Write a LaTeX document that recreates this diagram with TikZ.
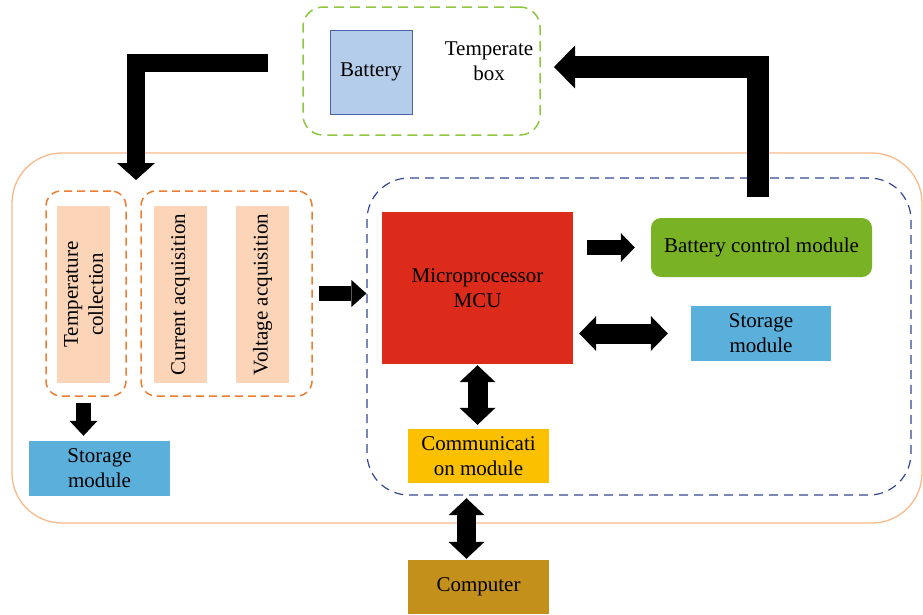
\documentclass[tikz,border=0pt]{standalone}
\usepackage{fontspec}
\setmainfont{Liberation Serif}
\usetikzlibrary{arrows.meta, positioning, calc}
\definecolor{boxgreen}{RGB}{141,198,63}
\definecolor{boardorange}{RGB}{248,185,138}
\definecolor{grouporange}{RGB}{237,125,49}
\definecolor{coreblue}{RGB}{52,70,145}
\definecolor{battfill}{RGB}{180,205,234}
\definecolor{battedge}{RGB}{70,100,165}
\definecolor{peach}{RGB}{252,213,184}
\definecolor{mcured}{RGB}{220,43,26}
\definecolor{ctrlgreen}{RGB}{122,178,38}
\definecolor{storeblue}{RGB}{91,175,219}
\definecolor{commyellow}{RGB}{251,192,0}
\definecolor{pcgold}{RGB}{195,144,28}
\tikzset{basic/.style={inner sep=0pt, align=center, font=\fontsize{21}{25}\selectfont}}
\tikzset{module/.style={basic, rectangle}}
\tikzset{sensor/.style={module, fill=peach, rotate=90, minimum width=177pt, minimum height=53pt}}
\tikzset{frame/.style={draw=boardorange, line width=1.3pt, rounded corners=50pt}}
\tikzset{tgroup/.style={draw=boxgreen, line width=1.5pt, dash pattern=on 10pt off 6pt, rounded corners=20pt}}
\tikzset{ogroup/.style={draw=grouporange, line width=1.5pt, dash pattern=on 8pt off 5pt, rounded corners=15pt}}
\tikzset{bgroup/.style={draw=coreblue, line width=1.2pt, dash pattern=on 9pt off 6pt, rounded corners=42pt}}
\tikzset{fat/.style n args={3}{draw=black, line width=#1, -{Triangle[length=#2, width=#3, line width=0pt]}}}
\tikzset{fatboth/.style n args={3}{draw=black, line width=#1, {Triangle[length=#2, width=#3, line width=0pt]}-{Triangle[length=#2, width=#3, line width=0pt]}}}

\begin{document}
\begin{tikzpicture}[x=1pt, y=-1pt]
    \useasboundingbox (0,0) rectangle (923,614);

    % frames
    \node[frame, minimum width=910pt, minimum height=370pt] (board) at (467,338) {};
    \node[tgroup, minimum width=237pt, minimum height=128pt] (tbox) at (421.5,71) {};
    \node[ogroup, minimum width=80pt, minimum height=205pt] (tcol) at (86,293.5) {};
    \node[ogroup, minimum width=171pt, minimum height=205pt] (acq) at (226.5,293.5) {};
    \node[bgroup, minimum width=544pt, minimum height=317pt] (core) at (639,336.5) {};

    % temperate box
    \node[module, fill=battfill, draw=battedge, line width=1pt, minimum width=82pt, minimum height=84pt] (battery) at (371,72) {Battery};
    \node[basic] (tlabel) at (489,61) {Temperate\\box};

    % acquisition
    \node[sensor] (temp) at (83.5,294.5) {Temperature\\collection};
    \node[sensor] (current) at (180.5,294.5) {Current acquisition};
    \node[sensor] (voltage) at (262.5,294.5) {Voltage acquisition};
    \node[module, fill=storeblue, minimum width=141pt, minimum height=55pt] (storeL) at (99.5,468.5) {Storage\\module};

    % control
    \node[module, fill=mcured, minimum width=191pt, minimum height=152pt] (mcu) at (477.5,288) {Microprocessor\\MCU};
    \node[module, fill=ctrlgreen, rounded corners=10pt, minimum width=221pt, minimum height=59pt] (bcm) at (761.5,247.5) {Battery control module};
    \node[module, fill=storeblue, minimum width=140pt, minimum height=55pt] (store) at (761,333.5) {Storage\\module};
    \node[module, fill=commyellow, minimum width=141pt, minimum height=54pt] (comm) at (478.5,456) {Communicati\\on module};
    \node[module, fill=pcgold, minimum width=141pt, minimum height=54pt] (pc) at (478.5,587) {Computer};

    % arrows
    \coordinate (tin) at (268,63);
    \coordinate (tout) at (136,180);
    \coordinate (cout) at (758,197);
    \coordinate (cin) at (554,67);
    \draw[fat={18pt}{17pt}{38pt}] (tin) -| (tout);
    \draw[fat={22pt}{21pt}{43pt}] (cout) |- (cin);
    \draw[fat={15pt}{15pt}{28pt}, shorten <=6pt, shorten >=5pt] (tcol.south -| temp) -- (storeL.north -| temp);
    \draw[fat={15pt}{15pt}{27pt}, shorten <=6pt] (acq.east) -- (acq.east -| core.west);
    \draw[fat={15pt}{14pt}{29pt}, shorten <=14pt, shorten >=16pt] (bcm.west -| mcu.east) -- (bcm.west);
    \draw[fatboth={20pt}{17pt}{35pt}, shorten <=6pt, shorten >=23pt] (store.west -| mcu.east) -- (store.west);
    \draw[fatboth={20pt}{17pt}{36pt}, shorten <=1pt, shorten >=4pt] (mcu.south) -- (mcu.south |- comm.north);
    \draw[fatboth={19pt}{17pt}{36pt}, shorten <=15pt, shorten >=1pt] ([xshift=-12pt]comm.south) -- ([xshift=-12pt]pc.north);

\end{tikzpicture}
\end{document}
